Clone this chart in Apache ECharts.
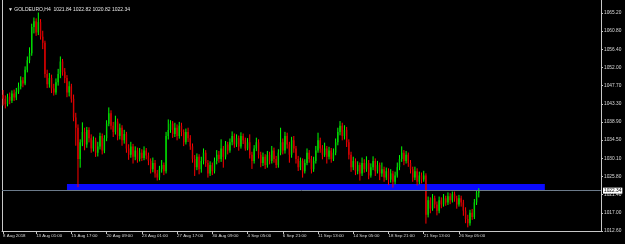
<!DOCTYPE html>
<html><head><meta charset="utf-8">
<script src="https://cdn.jsdelivr.net/npm/echarts@6/dist/echarts.min.js"></script>
<style>html,body{margin:0;padding:0;background:#000;}#c{width:625px;height:244px;}</style>
</head><body><div id="c"></div>
<script>
const chartTitle = 'GOLDEURO,H4  1021.84 1022.82 1020.82 1022.34';
const priceLabel = '1022.34';
const lastPrice = 1022.34;
const yLabels = ['1012.60','1017.00','1021.40','1025.80','1030.10','1034.50','1038.90','1043.30','1047.70','1052.00','1056.40','1060.80','1065.20'];
const yMin = 1012.6, yTopLabel = 1065.2, yMax = 1068.34;
const tickLabels = ['8 Aug 2018','13 Aug 01:00','15 Aug 17:00','20 Aug 09:00','23 Aug 01:00','27 Aug 17:00','30 Aug 09:00','4 Sep 05:00','6 Sep 21:00','11 Sep 13:00','14 Sep 05:00','18 Sep 21:00','21 Sep 13:00','26 Sep 05:00'];
const tickIndex = [0,15,31,47,63,79,95,111,127,143,159,175,191,207];
const slotCount = 272;
const zone = {from: 29, to: 246, low: 1022.49, high: 1023.94};

const opens = [
1045.5,1044.5,1043.2,1045.0,1044.0,1045.8,1044.8,1046.2,1047.5,1049.0,
1048.2,1051.5,1053.8,1055.5,1061.8,1063.2,1060.5,1063.0,1059.5,1058.0,
1050.5,1048.0,1049.5,1047.0,1046.0,1048.5,1050.5,1053.5,1051.0,1049.5,
1046.0,1047.5,1044.5,1040.0,1037.5,1030.0,1034.0,1036.5,1033.5,1037.0,
1035.0,1032.5,1034.5,1031.5,1033.0,1035.5,1032.0,1035.0,1038.5,1041.0,
1038.0,1036.5,1039.0,1035.5,1037.5,1034.5,1036.0,1032.5,1031.0,1033.0,
1030.5,1032.0,1030.0,1031.5,1030.2,1032.0,1030.8,1029.5,1027.5,1029.0,
1026.5,1025.5,1027.5,1028.5,1027.0,1035.5,1037.0,1038.5,1036.0,1037.5,
1035.5,1038.0,1036.5,1034.0,1036.5,1035.0,1033.0,1030.0,1028.0,1030.5,
1027.5,1029.5,1031.5,1029.0,1026.5,1028.5,1027.0,1029.5,1031.0,1030.0,
1032.5,1030.5,1033.5,1032.0,1034.0,1035.5,1033.5,1035.0,1033.0,1035.5,
1034.5,1032.5,1034.0,1031.0,1029.5,1032.5,1034.0,1031.0,1029.0,1030.5,
1028.5,1031.0,1029.5,1032.0,1030.0,1028.5,1031.5,1034.0,1032.0,1035.5,
1033.5,1031.0,1034.5,1032.5,1030.0,1028.0,1029.5,1027.0,1029.0,1031.5,
1030.0,1027.5,1029.5,1032.0,1034.5,1032.5,1031.0,1032.5,1030.5,1032.0,
1030.0,1031.5,1034.0,1036.5,1038.0,1035.5,1037.0,1034.0,1031.0,1028.0,
1029.5,1027.0,1028.5,1026.5,1029.0,1027.5,1029.0,1026.0,1028.0,1029.5,
1027.0,1028.5,1026.5,1027.5,1025.5,1027.0,1025.0,1026.5,1024.5,1026.0,
1028.0,1030.0,1031.5,1029.5,1031.0,1029.0,1027.5,1025.5,1027.0,1024.5,
1026.0,1025.0,1026.0,1016.5,1020.0,1018.0,1020.5,1019.0,1017.5,1020.0,
1019.0,1020.5,1019.5,1021.0,1020.0,1021.5,1020.5,1019.0,1020.5,1019.5,
1017.5,1015.5,1014.5,1017.0,1016.0,1019.5,1021.84];
const closes = [
1044.5,1043.2,1045.0,1044.0,1045.8,1044.8,1046.2,1047.5,1049.0,1048.2,
1051.5,1053.8,1055.5,1061.8,1063.2,1060.5,1063.0,1059.5,1058.0,1050.5,
1048.0,1049.5,1047.0,1046.0,1048.5,1050.5,1053.5,1051.0,1049.5,1046.0,
1047.5,1044.5,1040.0,1037.5,1030.0,1034.0,1036.5,1033.5,1037.0,1035.0,
1032.5,1034.5,1031.5,1033.0,1035.5,1032.0,1035.0,1038.5,1041.0,1038.0,
1036.5,1039.0,1035.5,1037.5,1034.5,1036.0,1032.5,1031.0,1033.0,1030.5,
1032.0,1030.0,1031.5,1030.2,1032.0,1030.8,1029.5,1027.5,1029.0,1026.5,
1025.5,1027.5,1028.5,1027.0,1035.5,1037.0,1038.5,1036.0,1037.5,1035.5,
1038.0,1036.5,1034.0,1036.5,1035.0,1033.0,1030.0,1028.0,1030.5,1027.5,
1029.5,1031.5,1029.0,1026.5,1028.5,1027.0,1029.5,1031.0,1030.0,1032.5,
1030.5,1033.5,1032.0,1034.0,1035.5,1033.5,1035.0,1033.0,1035.5,1034.5,
1032.5,1034.0,1031.0,1029.5,1032.5,1034.0,1031.0,1029.0,1030.5,1028.5,
1031.0,1029.5,1032.0,1030.0,1028.5,1031.5,1034.0,1032.0,1035.5,1033.5,
1031.0,1034.5,1032.5,1030.0,1028.0,1029.5,1027.0,1029.0,1031.5,1030.0,
1027.5,1029.5,1032.0,1034.5,1032.5,1031.0,1032.5,1030.5,1032.0,1030.0,
1031.5,1034.0,1036.5,1038.0,1035.5,1037.0,1034.0,1031.0,1028.0,1029.5,
1027.0,1028.5,1026.5,1029.0,1027.5,1029.0,1026.0,1028.0,1029.5,1027.0,
1028.5,1026.5,1027.5,1025.5,1027.0,1025.0,1026.5,1024.5,1026.0,1028.0,
1030.0,1031.5,1029.5,1031.0,1029.0,1027.5,1025.5,1027.0,1024.5,1026.0,
1025.0,1026.0,1016.5,1020.0,1018.0,1020.5,1019.0,1017.5,1020.0,1019.0,
1020.5,1019.5,1021.0,1020.0,1021.5,1020.5,1019.0,1020.5,1019.5,1017.5,
1015.5,1014.5,1017.0,1016.0,1019.5,1021.84,1022.34];
const lows = [
1043.0,1042.3,1042.8,1043.3,1043.6,1044.1,1044.3,1045.8,1046.9,1047.4,
1047.9,1051.0,1053.2,1055.0,1060.4,1059.8,1060.0,1058.9,1056.6,1049.7,
1047.2,1047.3,1046.0,1045.4,1045.6,1047.8,1049.6,1050.2,1048.4,1045.0,
1045.2,1043.7,1039.2,1033.3,1023.3,1028.0,1033.2,1032.2,1032.8,1034.1,
1031.6,1031.9,1030.6,1030.7,1032.4,1031.2,1031.5,1034.4,1038.0,1037.2,
1035.4,1036.0,1034.6,1034.8,1033.3,1033.8,1031.6,1029.9,1030.4,1029.0,
1029.8,1029.2,1029.5,1029.6,1029.8,1030.0,1028.6,1026.6,1026.9,1025.6,
1024.9,1025.0,1026.8,1026.2,1026.6,1034.8,1036.4,1035.2,1035.4,1034.6,
1035.0,1035.6,1033.2,1033.6,1034.2,1032.3,1029.2,1026.0,1027.4,1026.4,
1026.8,1028.8,1028.2,1025.6,1026.0,1026.2,1026.6,1028.8,1029.2,1029.4,
1028.0,1030.0,1031.2,1031.6,1033.4,1032.8,1033.0,1032.1,1032.6,1033.7,
1032.1,1032.2,1030.2,1027.7,1029.0,1032.0,1030.2,1028.1,1028.4,1027.7,
1028.0,1028.8,1029.0,1029.2,1027.9,1028.0,1031.0,1031.2,1031.4,1032.6,
1029.2,1030.4,1031.6,1029.0,1027.2,1027.4,1025.6,1026.6,1028.6,1029.2,
1026.6,1027.0,1029.0,1031.6,1031.6,1030.0,1030.6,1029.0,1030.0,1029.2,
1029.6,1031.0,1033.4,1035.8,1034.6,1034.8,1033.0,1030.0,1027.0,1027.4,
1026.2,1026.4,1024.9,1026.0,1026.8,1027.0,1025.2,1025.6,1027.4,1026.0,
1026.6,1025.0,1025.8,1024.6,1025.0,1023.8,1024.4,1023.2,1024.0,1025.6,
1027.4,1029.4,1028.6,1029.0,1028.2,1026.6,1024.6,1025.0,1023.7,1024.0,
1024.2,1024.6,1014.5,1016.0,1017.0,1017.6,1018.2,1016.5,1017.0,1018.2,
1018.6,1018.8,1019.0,1019.2,1019.6,1019.8,1018.1,1018.6,1018.6,1016.4,
1014.6,1013.6,1014.0,1015.4,1015.6,1019.0,1020.82];
const highs = [
1046.5,1045.2,1045.6,1045.9,1046.4,1046.6,1047.0,1048.3,1049.8,1049.6,
1052.2,1054.6,1056.8,1062.5,1064.0,1063.8,1065.2,1063.6,1060.8,1058.4,
1051.4,1050.6,1050.2,1048.0,1049.3,1051.6,1054.6,1054.0,1051.8,1050.1,
1048.6,1048.0,1045.4,1041.0,1038.2,1034.6,1038.7,1037.4,1037.6,1037.5,
1035.8,1035.3,1035.0,1034.0,1036.2,1036.0,1035.6,1039.2,1042.3,1041.6,
1038.8,1040.3,1039.6,1038.4,1038.0,1036.9,1036.4,1033.4,1034.0,1033.5,
1032.9,1032.6,1032.5,1032.2,1032.9,1032.5,1031.4,1030.0,1030.2,1029.6,
1027.2,1028.2,1029.6,1029.0,1036.4,1039.4,1039.2,1039.0,1038.6,1038.2,
1038.8,1038.6,1037.0,1037.2,1037.4,1035.6,1033.6,1030.8,1031.2,1031.0,
1030.4,1032.4,1032.0,1029.6,1029.3,1029.0,1030.2,1032.0,1031.8,1034.6,
1033.0,1034.2,1034.0,1034.8,1036.5,1036.0,1035.8,1035.5,1036.3,1036.0,
1035.0,1034.9,1035.8,1031.6,1033.2,1035.0,1034.6,1031.6,1031.4,1031.0,
1031.8,1031.6,1033.0,1032.6,1030.6,1032.2,1037.4,1034.8,1036.4,1036.2,
1034.0,1035.2,1035.4,1033.0,1030.6,1030.2,1030.0,1029.8,1032.4,1032.0,
1030.6,1030.4,1033.0,1036.2,1035.0,1033.2,1033.8,1033.0,1032.8,1032.5,
1032.4,1034.8,1037.4,1039.0,1038.6,1038.0,1037.6,1034.6,1031.6,1030.4,
1030.0,1029.3,1029.0,1030.2,1029.8,1030.5,1029.6,1028.8,1030.5,1030.0,
1029.4,1029.0,1029.0,1028.0,1027.8,1027.6,1027.4,1027.0,1026.8,1029.0,
1030.8,1032.9,1032.0,1031.8,1031.4,1029.6,1028.0,1028.0,1027.6,1026.8,
1026.6,1027.0,1026.4,1020.8,1020.6,1021.4,1021.0,1019.6,1020.8,1020.6,
1021.4,1021.0,1021.8,1021.6,1022.0,1022.0,1021.0,1021.2,1021.0,1020.0,
1018.2,1016.4,1017.6,1017.8,1020.2,1022.2,1022.82];

const categories = [];
for (let i = 0; i < slotCount; i++) categories.push(String(i));
const barData = opens.map((o, i) => [i, o, closes[i], lows[i], highs[i]]);
const yStep = (yTopLabel - yMin) / (yLabels.length - 1);
const axisCol = '#c8c8c8', textCol = '#dcdcdc';
const font = 'Liberation Sans';

const chart = echarts.init(document.getElementById('c'), null, {renderer: 'canvas'});
chart.setOption({
  backgroundColor: '#000000',
  animation: false,
  title: {text: '\u25BC ' + chartTitle, left: 3, top: 2,
    textStyle: {color: '#e6e6e6', fontSize: 5, fontWeight: 'normal', fontFamily: font}},
  grid: {left: 2, right: 24, top: 0, bottom: 13, show: false},
  xAxis: {type: 'category', data: categories, boundaryGap: true,
    axisLine: {show: true, lineStyle: {color: axisCol, width: 1}},
    axisTick: {show: true, alignWithLabel: true, length: 3, lineStyle: {color: axisCol},
      interval: (i) => tickIndex.indexOf(i) >= 0},
    axisLabel: {show: true, color: textCol, fontSize: 4.4, fontFamily: font, align: 'left', margin: 3,
      interval: (i) => tickIndex.indexOf(i) >= 0,
      formatter: (v, i) => { const k = tickIndex.indexOf(i); return k >= 0 ? tickLabels[k] : ''; }},
    splitLine: {show: false}},
  yAxis: [
    {type: 'value', position: 'right', min: yMin, max: yMax, interval: yStep,
      axisLine: {show: true, lineStyle: {color: axisCol, width: 1}},
      axisTick: {show: true, length: 2, lineStyle: {color: axisCol}},
      splitLine: {show: false},
      axisLabel: {show: true, color: textCol, fontSize: 4.8, fontFamily: font, margin: 3, showMaxLabel: false,
        formatter: (v) => { const k = Math.round((v - yMin) / yStep); return (k >= 0 && k < yLabels.length && Math.abs(v - (yMin + k * yStep)) < 1e-6) ? yLabels[k] : ''; }}},
    {type: 'value', position: 'left', min: yMin, max: yMax,
      axisLine: {show: true, lineStyle: {color: axisCol, width: 1}},
      axisTick: {show: false}, axisLabel: {show: false}, splitLine: {show: false}}
  ],
  series: [
    {type: 'line', data: [], z: 1, silent: true,
      markArea: {silent: true, itemStyle: {color: '#0a0aff'},
        data: [[{xAxis: String(zone.from), yAxis: zone.low}, {xAxis: String(zone.to), yAxis: zone.high}]]},
      markLine: {silent: true, symbol: ['none', 'none'], animation: false,
        lineStyle: {color: '#6b7a8a', type: 'solid', width: 1},
        label: {show: true, position: 'end', distance: 2, formatter: priceLabel, backgroundColor: '#ffffff',
          color: '#000000', fontSize: 4.8, fontFamily: font, padding: [1, 1, 0, 1]},
        data: [{yAxis: lastPrice}]}},
    {type: 'custom', z: 3, clip: true,
      data: barData,
      encode: {x: 0, y: [1, 2, 3, 4]},
      renderItem: function (params, api) {
        const i = api.value(0), o = api.value(1), c = api.value(2), l = api.value(3), h = api.value(4);
        const pL = api.coord([i, l]), pH = api.coord([i, h]);
        const pO = api.coord([i, o]), pC = api.coord([i, c]);
        const up = c >= o;
        const col = up ? '#00ff00' : '#ff0000';
        const top = Math.min(pO[1], pC[1]);
        const hgt = Math.max(Math.abs(pO[1] - pC[1]), 1);
        return {type: 'group', children: [
          {type: 'line', shape: {x1: pL[0], y1: pL[1] + 0.5, x2: pH[0], y2: pH[1] - 0.5},
            style: {stroke: col, lineWidth: 1}},
          {type: 'rect', shape: {x: pO[0] - 0.7, y: top, width: 1.4, height: hgt},
            style: {fill: up ? '#00d400' : '#d40000'}}
        ]};
      }}
  ]
});
</script></body></html>
